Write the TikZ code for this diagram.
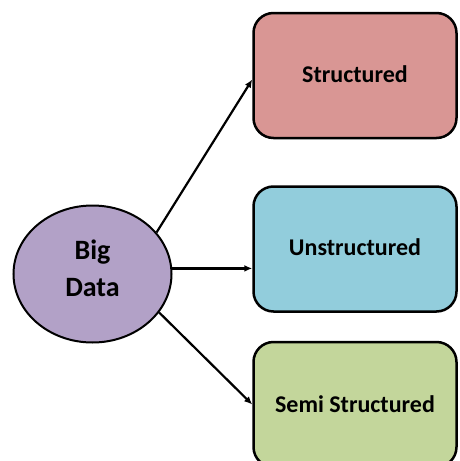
\documentclass[tikz,border=0pt]{standalone}
\usepackage{fontspec}
\setmainfont{Carlito}
\usetikzlibrary{shapes.geometric,arrows.meta}
\definecolor{bdpurple}{RGB}{178,161,199}
\definecolor{stred}{RGB}{217,150,148}
\definecolor{unblue}{RGB}{146,205,220}
\definecolor{semigreen}{RGB}{195,214,155}
\tikzset{
  kind/.style={draw,line width=2.5pt,rounded corners=20pt,minimum width=203pt,
    minimum height=125pt,inner sep=0pt,font=\fontsize{24}{28}\selectfont\bfseries},
  every picture/.style={->,>={Latex[length=8pt,width=7pt]}}
}

\begin{document}
\begin{tikzpicture}[x=1pt,y=-1pt]
    \useasboundingbox (0,0) rectangle (459,461);

    % Big Data in the middle left
    \node[ellipse,draw,line width=2pt,fill=bdpurple,minimum width=158pt,minimum height=137pt,
      inner sep=0pt,align=center,text depth=12pt,font=\fontsize{28}{37}\selectfont\bfseries] (bd) at (92.5,274) {Big\\Data};

    % The three kinds of data
    \node[kind,fill=stred] (s) at (355,75.5) {\raisebox{3pt}{Structured}};
    \node[kind,fill=unblue] (u) at (355,249) {\raisebox{3pt}{Unstructured}};
    \node[kind,fill=semigreen] (ss) at (355,404.5) {Semi Structured};

    % Arrows from Big Data
    \draw[line width=2.2pt] (bd.33) -- ([yshift=-4pt]s.west);
    \draw[line width=2.2pt] (bd.4) -- (bd.4 -| u.west);
    \draw[line width=2.2pt] (bd.-30) -- (ss.west);

\end{tikzpicture}
\end{document}
